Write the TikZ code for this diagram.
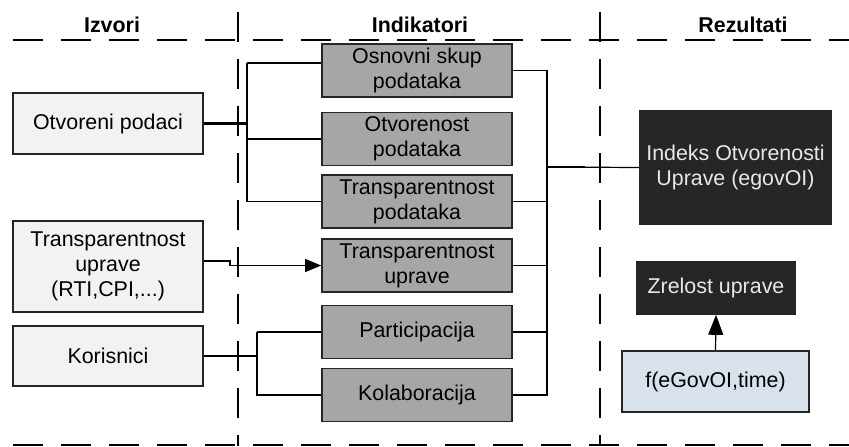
\documentclass[tikz,border=0pt]{standalone}
\usepackage{fontspec}
\setmainfont{Liberation Sans}
\usetikzlibrary{arrows.meta}
\definecolor{srcfill}{HTML}{F2F2F2}
\definecolor{indfill}{HTML}{A6A6A6}
\definecolor{resfill}{HTML}{262626}
\definecolor{restext}{HTML}{E8E8E8}
\definecolor{funfill}{HTML}{D9E1EC}

\begin{document}
\begin{tikzpicture}[x=0.5pt,y=-0.5pt,line width=0.6pt,
    box/.style={draw=black!85,line width=0.8pt,inner sep=0pt,align=center,
      font=\fontsize{10.7}{12.5}\selectfont},
    src/.style={box,fill=srcfill,minimum width=95pt},
    ind/.style={box,fill=indfill,minimum width=95pt,minimum height=26.5pt},
    res/.style={box,fill=resfill,text=restext},
    head/.style={font=\fontsize{10.7}{12.5}\selectfont\bfseries},
    lane/.style={line width=1pt,dash pattern=on 15pt off 9pt},
    sep/.style={line width=0.7pt,dash pattern=on 15pt off 8.5pt},
    bus/.style={line width=1.1pt},
    tip/.style={-{Triangle[length=8pt,width=6.5pt]}},
    bigtip/.style={-{Triangle[length=10pt,width=7.5pt]}}]

  \useasboundingbox (0,0) rectangle (849,446);

  % swimlanes
  \draw[lane] (13,40) -- (849,40);
  \draw[lane] (13,445) -- (849,445);
  \draw[sep] (238,12) -- (238,446);
  \draw[sep] (600,12) -- (600,446);

  \node[head] (hIzv) at (112,25) {Izvori};
  \node[head] (hInd) at (420,25) {Indikatori};
  \node[head] (hRez) at (743,25) {Rezultati};

  % izvori
  \node[src,minimum height=30.5pt] (otv) at (108,123.5) {Otvoreni podaci};
  \node[src,minimum height=45.5pt] (tup) at (108,266.5) {Transparentnost\\uprave\\(RTI,CPI,...)};
  \node[src,minimum height=30pt]   (kor) at (108,356)   {Korisnici};

  % indikatori
  \node[ind] (osn) at (417,70.5)  {Osnovni skup\\podataka};
  \node[ind] (otp) at (417,139)   {Otvorenost\\podataka};
  \node[ind] (tpd) at (417,201.5) {Transparentnost\\podataka};
  \node[ind] (tpu) at (417,265.5) {Transparentnost\\uprave};
  \node[ind] (par) at (417,332)   {Participacija};
  \node[ind] (kol) at (417,395)   {Kolaboracija};

  % rezultati
  \node[res,minimum width=95.5pt,minimum height=56.5pt] (ieo) at (735.5,167.5) {Indeks Otvorenosti\\Uprave (egovOI)};
  \node[res,minimum width=79pt,minimum height=26pt] (zre) at (716,288) {Zrelost uprave};
  \node[box,fill=funfill,minimum width=93.5pt,minimum height=30.5pt] (fgo) at (715.5,381.5) {f(eGovOI,time)};

  % veze
  \coordinate (la) at (247,63);
  \coordinate (lb) at (257,332);
  \coordinate (rb) at (547,167);
  \coordinate (tb) at (230,261);

  \draw[bus] (otv.east) -- (otv.east -| la);
  \draw (la) -- (la -| osn.west);
  \draw (la) |- (otp.west);
  \draw (la) |- (tpd.west);

  \draw[tip] (tup.east |- tb) -- (tb) |- (tpu.west);

  \draw[bus] (kor.east) -- (kor.east -| lb);
  \draw (lb) -- (par.west -| lb) -- (par.west);
  \draw (lb) |- (kol.west);

  \draw (osn.east) -- (osn.east -| rb) -- (kol.east -| rb) -- (kol.east);
  \foreach \n in {tpd,tpu,par}
    \draw (\n.east) -- (\n.east -| rb);
  \draw[bus] (rb) -- (par.east -| rb);
  \draw[bus] (rb) -- +(38,0);
  \draw (rb) -- (ieo.west);

  \draw[bigtip] (fgo.north) -- (zre.south);
\end{tikzpicture}
\end{document}
